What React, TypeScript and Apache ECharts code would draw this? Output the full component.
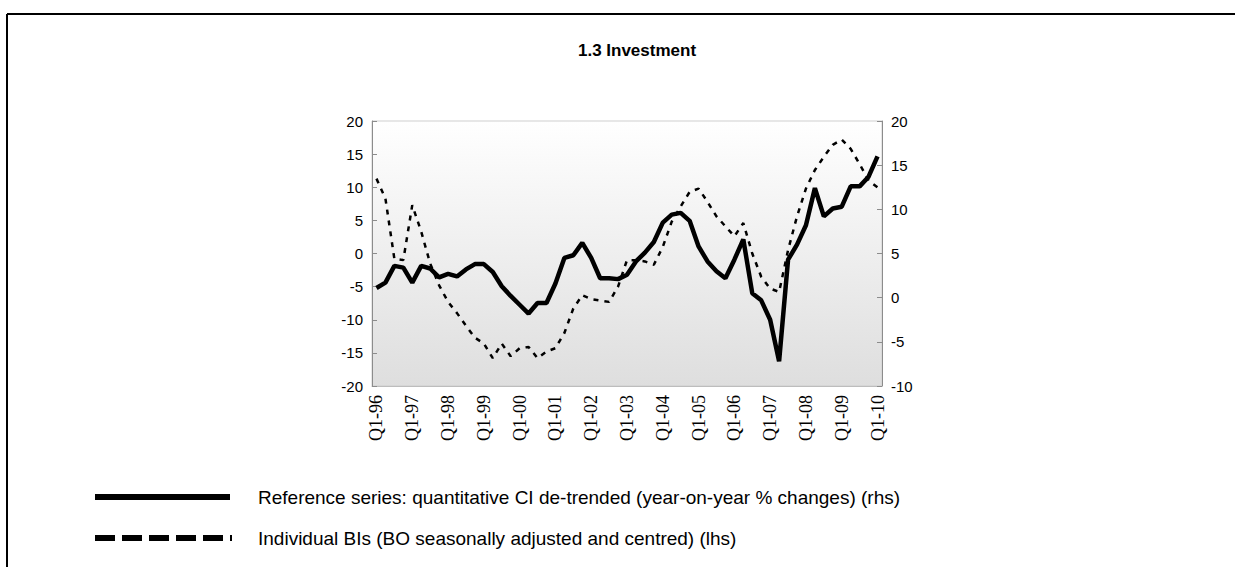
import React, { useEffect, useRef } from "react";
import * as echarts from "echarts";

const years = ["96", "97", "98", "99", "00", "01", "02", "03", "04", "05", "06", "07", "08", "09", "10"];
const quarters = ["Q1", "Q2", "Q3", "Q4"];

const categories: string[] = [];
years.forEach((y, yi) => {
  quarters.forEach((q) => {
    if (yi < years.length - 1 || q === "Q1") categories.push(`${q}-${y}`);
  });
});

// Reference series: quantitative CI de-trended (rhs)
const referenceSeries = [
  1.1, 1.7, 3.6, 3.4, 1.7, 3.6, 3.3, 2.3, 2.7, 2.4, 3.2, 3.8, 3.8, 2.9, 1.3, 0.2,
  -0.8, -1.8, -0.6, -0.6, 1.6, 4.5, 4.8, 6.2, 4.5, 2.2, 2.2, 2.1, 2.6, 4.1, 5.1, 6.3,
  8.5, 9.4, 9.6, 8.7, 5.8, 4.1, 3.0, 2.2, 4.3, 6.6, 0.5, -0.3, -2.5, -7.2, 4.3, 6.0,
  8.2, 12.4, 9.2, 10.1, 10.3, 12.6, 12.6, 13.7, 16.0,
];

// Individual BIs (lhs)
const individualBIs = [
  11.3, 8.3, -0.8, -1.0, 7.3, 3.3, -1.5, -4.8, -7.3, -9.0, -10.9, -12.7, -13.6, -15.8, -13.6, -15.5,
  -14.3, -14.1, -15.8, -14.8, -14.3, -12.0, -8.3, -6.3, -6.9, -7.1, -7.3, -5.0, -1.0, -1.0, -1.2, -1.7,
  1.0, 4.8, 7.1, 9.3, 9.8, 7.8, 5.6, 4.1, 2.6, 4.6, 0.0, -3.5, -5.3, -5.8, 0.5, 5.6,
  9.8, 12.6, 14.6, 16.4, 17.2, 15.8, 13.5, 11.0, 10.0,
];

const leftAxis = { min: -20, max: 20, interval: 5 };
const rightAxis = { min: -10, max: 20, interval: 5 };

const titleText = "1.3 Investment";
const legendLabels = [
  "Reference series: quantitative CI de-trended (year-on-year % changes) (rhs)",
  "Individual BIs (BO seasonally adjusted and centred) (lhs)",
];

const SANS = "'Liberation Sans', Arial, sans-serif";
const SERIF = "'Liberation Serif', 'Times New Roman', serif";

export default function App() {
  const ref = useRef<HTMLDivElement>(null);

  useEffect(() => {
    document.body.style.margin = "0";
    if (!ref.current) return;
    const chart = echarts.init(ref.current, undefined, { renderer: "svg" });

    const axisCommon = {
      type: "value" as const,
      splitLine: { show: false },
      axisLine: { show: true, lineStyle: { color: "#8c8c8c", width: 1 } },
      axisTick: { show: true, inside: true, length: 5, lineStyle: { color: "#8c8c8c" } },
      axisLabel: { color: "#000", fontSize: 15, fontFamily: SANS, margin: 9 },
    };

    chart.setOption({
      animation: false,
      backgroundColor: "#ffffff",
      grid: {
        left: 372,
        right: 353,
        top: 121,
        bottom: 181,
        show: true,
        borderColor: "#cfcfcf",
        borderWidth: 1,
        backgroundColor: new echarts.graphic.LinearGradient(0, 0, 0, 1, [
          { offset: 0, color: "#ffffff" },
          { offset: 1, color: "#dedede" },
        ]),
      },
      xAxis: {
        type: "category",
        data: categories,
        boundaryGap: true,
        axisLine: { show: true, onZero: false, lineStyle: { color: "#bdbdbd" } },
        axisTick: { show: false },
        axisLabel: {
          interval: 3,
          rotate: 90,
          color: "#000",
          fontSize: 18,
          fontFamily: SERIF,
          margin: 9,
        },
      },
      yAxis: [
        { ...axisCommon, position: "left", min: leftAxis.min, max: leftAxis.max, interval: leftAxis.interval },
        { ...axisCommon, position: "right", min: rightAxis.min, max: rightAxis.max, interval: rightAxis.interval },
      ],
      series: [
        {
          name: legendLabels[1],
          type: "line",
          yAxisIndex: 0,
          data: individualBIs,
          showSymbol: false,
          lineStyle: { color: "#000", width: 2.5, type: [5, 6] },
          z: 2,
        },
        {
          name: legendLabels[0],
          type: "line",
          yAxisIndex: 1,
          data: referenceSeries,
          showSymbol: false,
          lineStyle: { color: "#000", width: 4.5 },
          z: 3,
        },
      ],
      graphic: [
        { type: "line", shape: { x1: 7, y1: 14, x2: 1240, y2: 14 }, style: { stroke: "#000", lineWidth: 2 } },
        { type: "line", shape: { x1: 7, y1: 14, x2: 7, y2: 570 }, style: { stroke: "#000", lineWidth: 2 } },
        {
          type: "text",
          x: 637,
          y: 50,
          style: { text: titleText, font: `bold 17px ${SANS}`, fill: "#000", textAlign: "center", textVerticalAlign: "middle" },
        },
        { type: "line", shape: { x1: 95, y1: 497, x2: 230, y2: 497 }, style: { stroke: "#000", lineWidth: 6 } },
        { type: "line", shape: { x1: 95, y1: 538, x2: 232, y2: 538 }, style: { stroke: "#000", lineWidth: 6, lineDash: [20, 7] } },
        {
          type: "text",
          x: 258,
          y: 497,
          style: { text: legendLabels[0], font: `19px ${SANS}`, fill: "#000", textVerticalAlign: "middle" },
        },
        {
          type: "text",
          x: 258,
          y: 538,
          style: { text: legendLabels[1], font: `19px ${SANS}`, fill: "#000", textVerticalAlign: "middle" },
        },
      ],
    });

    return () => chart.dispose();
  }, []);

  return <div ref={ref} style={{ width: 1235, height: 567 }} />;
}
